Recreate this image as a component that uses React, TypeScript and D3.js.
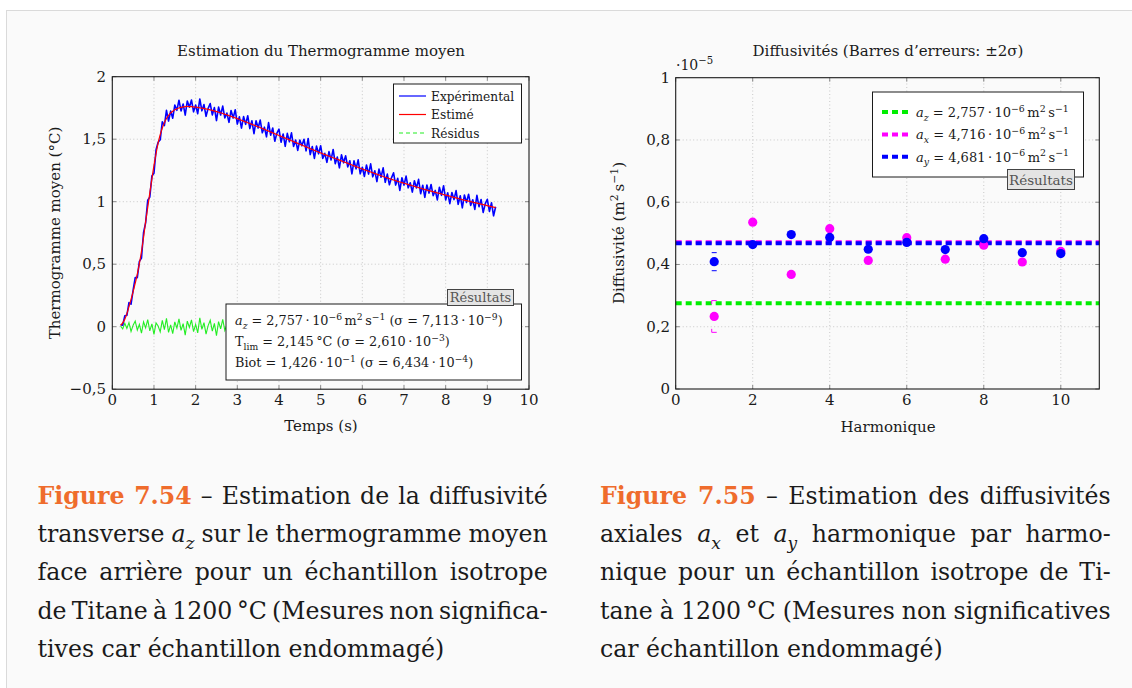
import React, { useLayoutEffect, useRef, useState } from 'react';
import * as d3 from 'd3';

const FONT = "'DejaVu Serif', serif";
const FS = 15;

// ---------- Left chart data (Estimation du Thermogramme moyen) ----------
const tStart = 0.2;
const tStep = 0.05;
// Estimated thermogram (°C), one value every 0.05 s from 0.2 s to 9.2 s
const estimated = [
  0.010, 0.030, 0.060, 0.105, 0.160, 0.218, 0.280, 0.348, 0.420, 0.505,
  0.600, 0.715, 0.840, 0.955, 1.070, 1.182, 1.290, 1.385, 1.470, 1.537,
  1.590, 1.632, 1.665, 1.690, 1.710, 1.724, 1.735, 1.743, 1.750, 1.755,
  1.758, 1.761, 1.762, 1.761, 1.760, 1.758, 1.756, 1.754, 1.751, 1.748,
  1.745, 1.742, 1.738, 1.734, 1.730, 1.726, 1.721, 1.716, 1.711, 1.706,
  1.700, 1.695, 1.689, 1.683, 1.677, 1.671, 1.665, 1.658, 1.652, 1.645,
  1.639, 1.632, 1.626, 1.619, 1.613, 1.606, 1.600, 1.593, 1.586, 1.579,
  1.572, 1.565, 1.558, 1.551, 1.544, 1.537, 1.530, 1.523, 1.516, 1.509,
  1.502, 1.495, 1.488, 1.481, 1.474, 1.467, 1.460, 1.453, 1.446, 1.439,
  1.432, 1.425, 1.418, 1.411, 1.404, 1.397, 1.391, 1.384, 1.378, 1.371,
  1.365, 1.358, 1.352, 1.346, 1.340, 1.333, 1.327, 1.320, 1.314, 1.307,
  1.301, 1.294, 1.288, 1.281, 1.275, 1.268, 1.262, 1.256, 1.250, 1.244,
  1.238, 1.232, 1.226, 1.220, 1.214, 1.208, 1.202, 1.196, 1.191, 1.185,
  1.180, 1.174, 1.169, 1.163, 1.158, 1.153, 1.148, 1.143, 1.138, 1.133,
  1.128, 1.123, 1.118, 1.113, 1.108, 1.103, 1.098, 1.093, 1.089, 1.084,
  1.080, 1.075, 1.071, 1.066, 1.062, 1.057, 1.053, 1.048, 1.044, 1.039,
  1.035, 1.030, 1.026, 1.021, 1.017, 1.012, 1.008, 1.004, 1.000, 0.996,
  0.992, 0.988, 0.984, 0.980, 0.976, 0.972, 0.968, 0.964, 0.960, 0.956,
  0.952,
];
// Residuals (milli-°C), same sampling
const residualsMilli = [
  5, -18, 27, -14, 33, -38, 12, 45, -27, 18,
  -51, 39, -9, 57, -33, 23, -62, 30, 6, -42,
  50, -23, 66, -45, 15, -56, 38, -12, 62, -29,
  24, -68, 44, -5, 54, -39, 18, -50, 71, -21,
  32, -59, 9, 51, -36, 27, -72, 41, -17, 59,
  -30, 14, -54, 47, -8, 65, -44, 21, -63, 36,
  -20, 56, -41, 29, -69, 42, -11, 60, -35, 17,
  -53, 68, -26, 39, -60, 12, 50, -47, 26, -66,
  45, -15, 63, -39, 20, -57, 33, -6, 54, -32,
  74, -48, 23, -65, 41, -14, 57, -38, 9, -56,
  36, -24, 66, -42, 17, -62, 48, -9, 53, -29,
  27, -71, 39, -18, 60, -45, 14, -54, 44, -23,
  65, -33, 21, -59, 47, -12, 69, -41, 30, -50,
  11, 57, -36, 24, -68, 38, -15, 62, -27, 18,
  -51, 45, -8, 66, -44, 29, -63, 41, -20, 54,
  -32, 15, -57, 50, -11, 71, -39, 23, -60, 35,
  -18, 59, -47, 27, -66, 42, -14, 56, -30, 20,
  -54, 63, -24, 38, -62, 12, 51, -42, 32, -69,
  8,
];
const xTicksL = [0, 1, 2, 3, 4, 5, 6, 7, 8, 9, 10];
const yTicksL = [-0.5, 0, 0.5, 1, 1.5, 2];
const legendL = ['Expérimental', 'Estimé', 'Résidus'];

// ---------- Right chart data (Diffusivités, ×1e-5 m² s⁻¹) ----------
const harmonics = [1, 2, 3, 4, 5, 6, 7, 8, 9, 10];
const ax = [0.233, 0.536, 0.368, 0.515, 0.413, 0.486, 0.417, 0.462, 0.408, 0.442];
const ay = [0.409, 0.464, 0.496, 0.487, 0.449, 0.471, 0.448, 0.483, 0.438, 0.435];
const axErr = [0.051, 0.004, 0.004, 0.004, 0.003, 0.003, 0.003, 0.003, 0.003, 0.003];
const ayErr = [0.029, 0.003, 0.003, 0.003, 0.003, 0.002, 0.002, 0.002, 0.002, 0.002];
const azMean = 0.2757;
const axMean = 0.4716;
const ayMean = 0.4681;
const xTicksR = [0, 2, 4, 6, 8, 10];
const yTicksR = [0, 0.2, 0.4, 0.6, 0.8, 1];

const fmt = (v: number) => (v < 0 ? '\u2212' : '') + String(Math.abs(v)).replace('.', ',');

type Seg = { t: string; it?: boolean; sub?: boolean; sup?: boolean; fill?: string; bold?: boolean };

function Rich({ x, y, size, segs, anchor = 'start', fill = '#1a1a1a', wordSpacing, textRef }: any) {
  let cur = 0;
  const spans = (segs as Seg[]).map((s, i) => {
    const off = s.sub ? size * 0.28 : s.sup ? -size * 0.42 : 0;
    const dy = off - cur;
    cur = off;
    return (
      <tspan
        key={i}
        dy={dy !== 0 ? dy : undefined}
        fontSize={s.sub || s.sup ? size * 0.72 : size}
        fontStyle={s.it ? 'italic' : undefined}
        fontWeight={s.bold ? 'bold' : undefined}
        fill={s.fill}
      >
        {s.t}
      </tspan>
    );
  });
  return (
    <text
      ref={textRef}
      x={x}
      y={y}
      fontSize={size}
      fontFamily={FONT}
      textAnchor={anchor}
      fill={fill}
      style={{ whiteSpace: 'pre', wordSpacing: wordSpacing ? wordSpacing + 'px' : undefined }}
    >
      {spans}
    </text>
  );
}

const TS = '\u2009';
const Txt = (p: any) => <text fontFamily={FONT} fontSize={FS} fill="#1a1a1a" {...p} />;

function LeftChart() {
  const x = d3.scaleLinear().domain([0, 10]).range([112.3, 529]);
  const y = d3.scaleLinear().domain([-0.5, 2]).range([389.2, 76.7]);
  const n = Math.min(estimated.length, residualsMilli.length);
  const times = d3.range(n).map(i => tStart + tStep * i);
  const est = times.map((t, i) => [t, estimated[i]] as [number, number]);
  const exp = times.map((t, i) => [t, estimated[i] + residualsMilli[i] / 1000] as [number, number]);
  const res = times.map((t, i) => [t, residualsMilli[i] / 1000] as [number, number]);
  const line = d3.line<[number, number]>().x(d => x(d[0])).y(d => y(d[1]));
  const smooth = d3.line<[number, number]>().x(d => x(d[0])).y(d => y(d[1])).curve(d3.curveMonotoneX);
  const [x0, x1] = x.range();
  const [y0, y1] = y.range();
  const legendColors = ['#0000ff', '#ff0000', '#22ee22'];
  return (
    <g>
      <Txt x={321} y={56} textAnchor="middle">Estimation du Thermogramme moyen</Txt>
      {xTicksL.slice(1, -1).map(v => (
        <line key={'gx' + v} x1={x(v)} x2={x(v)} y1={y0} y2={y1} stroke="#c8c8c8" strokeDasharray="1,2.5" />
      ))}
      {yTicksL.slice(1, -1).map(v => (
        <line key={'gy' + v} x1={x0} x2={x1} y1={y(v)} y2={y(v)} stroke="#c8c8c8" strokeDasharray="1,2.5" />
      ))}
      {xTicksL.map(v => (
        <g key={'tx' + v}>
          <line x1={x(v)} x2={x(v)} y1={y0} y2={y0 - 4} stroke="#888" />
          <line x1={x(v)} x2={x(v)} y1={y1} y2={y1 + 4} stroke="#888" />
          <Txt x={x(v)} y={405} textAnchor="middle">{fmt(v)}</Txt>
        </g>
      ))}
      {yTicksL.map(v => (
        <g key={'ty' + v}>
          <line x1={x0} x2={x0 + 4} y1={y(v)} y2={y(v)} stroke="#888" />
          <line x1={x1} x2={x1 - 4} y1={y(v)} y2={y(v)} stroke="#888" />
          <Txt x={106} y={y(v) + 5} textAnchor="end">{fmt(v)}</Txt>
        </g>
      ))}
      <path d={line(res) || ''} fill="none" stroke="#22ee22" strokeWidth={1.1} />
      <path d={line(exp) || ''} fill="none" stroke="#0000ff" strokeWidth={1.6} strokeLinejoin="round" />
      <path d={smooth(est) || ''} fill="none" stroke="#ff0000" strokeWidth={1.2} />
      <rect x={x0} y={y1} width={x1 - x0} height={y0 - y1} fill="none" stroke="#1a1a1a" strokeWidth={1.1} />
      <Txt x={321} y={431} textAnchor="middle">Temps (s)</Txt>
      <Txt transform="translate(60,233) rotate(-90)" textAnchor="middle">Thermogramme moyen (°C)</Txt>
      {/* legend */}
      <rect x={393.5} y={84} width={128} height={59} fill="#fff" stroke="#1a1a1a" />
      {legendL.map((lab, i) => (
        <g key={lab}>
          <line x1={399} x2={426} y1={96 + i * 18.5} y2={96 + i * 18.5} stroke={legendColors[i]} strokeWidth={1.2}
            strokeDasharray={i === 2 ? '4,3' : undefined} />
          <Txt x={431} y={100.5 + i * 18.5} fontSize={12.2}>{lab}</Txt>
        </g>
      ))}
      {/* results box */}
      <rect x={226} y={304} width={295.5} height={76} fill="#fff" stroke="#1a1a1a" />
      <rect x={447.5} y={289.5} width={66} height={16} fill="#e4e4e4" stroke="#444" />
      <Txt x={480.5} y={302} textAnchor="middle" fontSize={13} fill="#555">Résultats</Txt>
      <Rich x={235} y={325} size={12.8} segs={[
        { t: 'a', it: true }, { t: 'z', it: true, sub: true },
        { t: ' = 2,757' + TS + '·' + TS + '10' }, { t: '\u22126', sup: true }, { t: TS + 'm' }, { t: '2', sup: true },
        { t: TS + 's' }, { t: '\u22121', sup: true }, { t: ' (σ = 7,113' + TS + '·' + TS + '10' }, { t: '\u22129', sup: true }, { t: ')' },
      ]} />
      <Rich x={235} y={346} size={12.8} segs={[
        { t: 'T' }, { t: 'lim', sub: true }, { t: ' = 2,145' + TS + '°C (σ = 2,610' + TS + '·' + TS + '10' }, { t: '\u22123', sup: true }, { t: ')' },
      ]} />
      <Rich x={235} y={367} size={12.8} segs={[
        { t: 'Biot = 1,426' + TS + '·' + TS + '10' }, { t: '\u22121', sup: true }, { t: ' (σ = 6,434' + TS + '·' + TS + '10' }, { t: '\u22124', sup: true }, { t: ')' },
      ]} />
    </g>
  );
}

function RightChart() {
  const x = d3.scaleLinear().domain([0, 11]).range([675.7, 1099.3]);
  const y = d3.scaleLinear().domain([0, 1]).range([389, 77.7]);
  const [x0, x1] = x.range();
  const [y0, y1] = y.range();
  const means = [
    { v: azMean, c: '#00ee00', lab: 'z' },
    { v: axMean, c: '#ff00ff', lab: 'x' },
    { v: ayMean, c: '#0000ff', lab: 'y' },
  ];
  const legendVals = ['2,757', '4,716', '4,681'];
  const series = [
    { vals: ax, err: axErr, c: '#ff00ff', stub: 3.5 },
    { vals: ay, err: ayErr, c: '#0000ff', stub: 0 },
  ];
  return (
    <g>
      <Txt x={888} y={56} textAnchor="middle">Diffusivités (Barres d’erreurs: ±2σ)</Txt>
      <Rich x={676} y={70} size={14} segs={[{ t: '·10' }, { t: '\u22125', sup: true }]} />
      {xTicksR.slice(1).map(v => (
        <line key={'gx' + v} x1={x(v)} x2={x(v)} y1={y0} y2={y1} stroke="#c8c8c8" strokeDasharray="1,2.5" />
      ))}
      {yTicksR.slice(1, -1).map(v => (
        <line key={'gy' + v} x1={x0} x2={x1} y1={y(v)} y2={y(v)} stroke="#c8c8c8" strokeDasharray="1,2.5" />
      ))}
      {xTicksR.map(v => (
        <g key={'tx' + v}>
          <line x1={x(v)} x2={x(v)} y1={y0} y2={y0 - 4} stroke="#888" />
          <line x1={x(v)} x2={x(v)} y1={y1} y2={y1 + 4} stroke="#888" />
          <Txt x={x(v)} y={405} textAnchor="middle">{fmt(v)}</Txt>
        </g>
      ))}
      {yTicksR.map(v => (
        <g key={'ty' + v}>
          <line x1={x0} x2={x0 + 4} y1={y(v)} y2={y(v)} stroke="#888" />
          <line x1={x1} x2={x1 - 4} y1={y(v)} y2={y(v)} stroke="#888" />
          <Txt x={670} y={y(v) + 5} textAnchor="end">{fmt(v)}</Txt>
        </g>
      ))}
      {means.map(m => (
        <line key={m.lab} x1={x0} x2={x1} y1={y(m.v)} y2={y(m.v)} stroke={m.c} strokeWidth={4} strokeDasharray="6,4" />
      ))}
      {series.map((s, si) => (
        <g key={si}>
          {harmonics.map((h, i) => {
            const cx = x(h);
            const top = y(s.vals[i] + s.err[i]);
            const bot = y(s.vals[i] - s.err[i]);
            return (
              <g key={h}>
                <line x1={cx - 2.5} x2={cx + 2.5} y1={top} y2={top} stroke={s.c} strokeWidth={1} />
                <line x1={cx - 2.5} x2={cx + 2.5} y1={bot} y2={bot} stroke={s.c} strokeWidth={1} />
                {s.stub > 0 && (
                  <g>
                    <line x1={cx - 2.5} x2={cx - 2.5} y1={top} y2={top + s.stub} stroke={s.c} strokeWidth={1} />
                    <line x1={cx - 2.5} x2={cx - 2.5} y1={bot} y2={bot - s.stub} stroke={s.c} strokeWidth={1} />
                  </g>
                )}
                <circle cx={cx} cy={y(s.vals[i])} r={4.6} fill={s.c} />
              </g>
            );
          })}
        </g>
      ))}
      <rect x={x0} y={y1} width={x1 - x0} height={y0 - y1} fill="none" stroke="#1a1a1a" strokeWidth={1.1} />
      <Txt x={888} y={432} textAnchor="middle">Harmonique</Txt>
      <g transform="translate(624,233) rotate(-90)">
        <Rich x={0} y={0} size={FS} anchor="middle" segs={[
          { t: 'Diffusivité (m' }, { t: '2', sup: true }, { t: TS + 's' }, { t: '\u22121', sup: true }, { t: ')' },
        ]} />
      </g>
      {/* legend */}
      <rect x={872.5} y={92} width={211} height={85} fill="#fff" stroke="#1a1a1a" />
      {means.map((m, i) => (
        <g key={'lg' + m.lab}>
          <line x1={882} x2={908} y1={112 + i * 22.4} y2={112 + i * 22.4} stroke={m.c} strokeWidth={4} strokeDasharray="6,4" />
          <Rich x={916} y={117 + i * 22.4} size={13} segs={[
            { t: 'a', it: true }, { t: m.lab, it: true, sub: true },
            { t: ' = ' + legendVals[i] + TS + '·' + TS + '10' }, { t: '\u22126', sup: true }, { t: TS + 'm' }, { t: '2', sup: true },
            { t: TS + 's' }, { t: '\u22121', sup: true },
          ]} />
        </g>
      ))}
      <rect x={1007.5} y={169.5} width={67} height={20} fill="#e4e4e4" stroke="#444" />
      <Txt x={1041} y={184.5} textAnchor="middle" fontSize={13.5} fill="#555">Résultats</Txt>
    </g>
  );
}

const ORANGE = '#ef6c2c';
const capLeft: Seg[][] = [
  [{ t: 'Figure 7.54', fill: ORANGE, bold: true }, { t: ' – Estimation de la diffusivité' }],
  [{ t: 'transverse ' }, { t: 'a', it: true }, { t: 'z', it: true, sub: true }, { t: ' sur le thermogramme moyen' }],
  [{ t: 'face arrière pour un échantillon isotrope' }],
  [{ t: 'de Titane à 1200' + TS + '°C (Mesures non significa-' }],
  [{ t: 'tives car échantillon endommagé)' }],
];
const capRight: Seg[][] = [
  [{ t: 'Figure 7.55', fill: ORANGE, bold: true }, { t: ' – Estimation des diffusivités' }],
  [{ t: 'axiales ' }, { t: 'a', it: true }, { t: 'x', it: true, sub: true }, { t: ' et ' }, { t: 'a', it: true }, { t: 'y', it: true, sub: true }, { t: ' harmonique par harmo-' }],
  [{ t: 'nique pour un échantillon isotrope de Ti-' }],
  [{ t: 'tane à 1200' + TS + '°C (Mesures non significatives' }],
  [{ t: 'car échantillon endommagé)' }],
];
const capLastLeftWidth = 407;

function Captions() {
  const cols = [
    { lines: capLeft, x: 37.5, w: 510.5 },
    { lines: capRight, x: 600, w: 511 },
  ];
  const all = cols.flatMap(c => c.lines.map((segs, li) => ({ segs, x: c.x, w: c.w, li, last: li === c.lines.length - 1 })));
  const refs = useRef<(SVGTextElement | null)[]>([]);
  const BASE = 20;
  const [layout, setLayout] = useState<{ size: number; ws: number[] } | null>(null);
  useLayoutEffect(() => {
    if (layout) return;
    const widths = refs.current.map(el => (el ? el.getComputedTextLength() : 0));
    const k = widths[4] > 0 ? capLastLeftWidth / widths[4] : 1;
    const ws = all.map((l, i) => {
      if (l.last) return 0;
      const spaces = l.segs.reduce((a, s) => a + (s.t.match(/ /g) || []).length, 0);
      return spaces > 0 ? (l.w - widths[i] * k) / spaces : 0;
    });
    setLayout({ size: BASE * k, ws });
  });
  return (
    <g>
      {all.map((l, i) => (
        <Rich key={i} textRef={(el: SVGTextElement | null) => { refs.current[i] = el; }}
          x={l.x} y={504 + l.li * 38.2} size={layout ? layout.size : BASE} segs={l.segs} fill="#1a1a1a"
          wordSpacing={layout ? layout.ws[i] : 0} />
      ))}
    </g>
  );
}

export default function App() {
  return (
    <svg width={1132} height={688} style={{ position: 'fixed', left: 0, top: 0, background: '#fff' }}>
      <rect x={6.5} y={10.5} width={1200} height={800} fill="#fafafa" stroke="#dadada" />
      <LeftChart />
      <RightChart />
      <Captions />
    </svg>
  );
}
